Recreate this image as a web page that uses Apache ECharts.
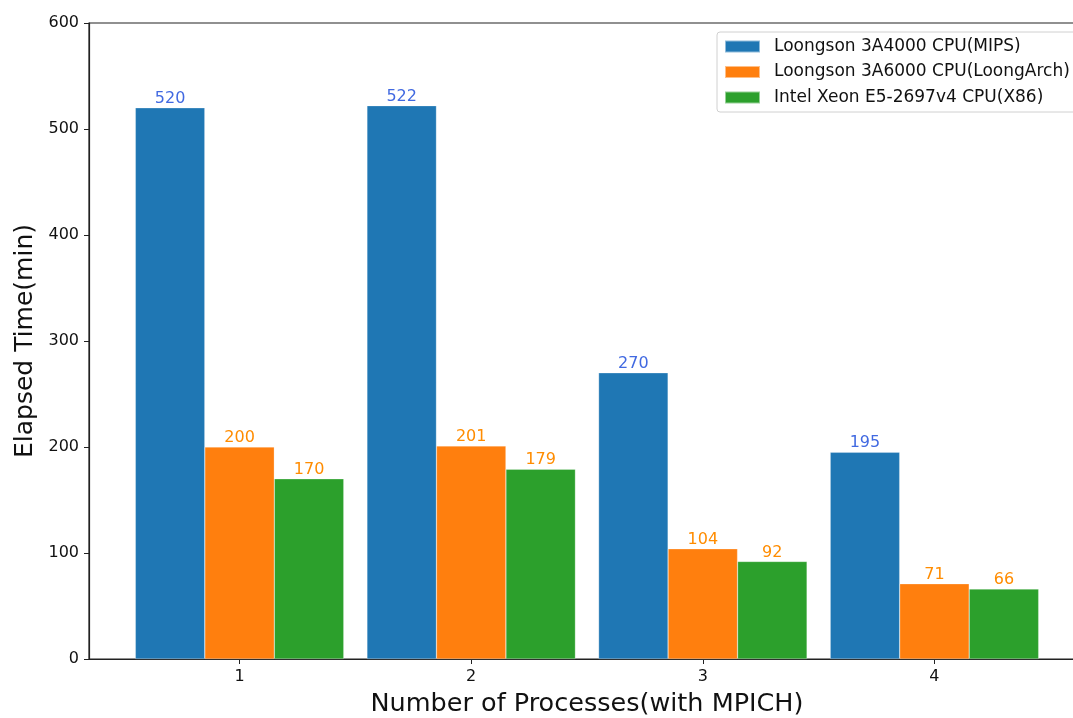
<!DOCTYPE html>
<html>
<head>
<meta charset="utf-8">
<script src="https://cdn.jsdelivr.net/npm/echarts@6/dist/echarts.min.js"></script>
<style>
html,body{margin:0;padding:0;background:#fff;}
#chart{width:1073px;height:718px;}
</style>
</head>
<body>
<div id="chart"></div>
<script>
const categories = ['1', '2', '3', '4'];
const seriesNames = ['Loongson 3A4000 CPU(MIPS)', 'Loongson 3A6000 CPU(LoongArch)', 'Intel Xeon E5-2697v4 CPU(X86)'];
const mips = [520, 522, 270, 195];
const loongArch = [200, 201, 104, 71];
const x86 = [170, 179, 92, 66];
const yTicks = [0, 100, 200, 300, 400, 500, 600];

const barColors = ['#1f77b4', '#ff7f0e', '#2ca02c'];
const labelColors = ['#4169e1', '#ff8c00', '#ff8c00'];
const FONT = 'DejaVu Sans';

function toPoints(arr) { return arr.map((v, i) => [i + 1, v]); }

const chart = echarts.init(document.getElementById('chart'), null, {renderer: 'canvas'});
const seriesData = [mips, loongArch, x86];
chart.setOption({
  animation: false,
  textStyle: {fontFamily: FONT},
  grid: {left: 89, right: -12, top: 23, bottom: 59, outerBoundsMode: 'none', containLabel: false,
    show: true, borderColor: '#222', borderWidth: 1.2, backgroundColor: 'transparent'},
  legend: {
    orient: 'vertical', left: 717, top: 32,
    icon: 'rect', itemWidth: 35, itemHeight: 12, itemGap: 8.5,
    padding: [6, 10, 6, 7],
    borderColor: '#d0d0d0', borderWidth: 1, borderRadius: 3,
    backgroundColor: '#fff',
    textStyle: {fontFamily: FONT, fontSize: 17, color: '#111', padding: [0, 0, 0, 9]},
    data: seriesNames
  },
  xAxis: {
    type: 'value', min: 0.35, max: 4.65,
    name: 'Number of Processes(with MPICH)', nameLocation: 'middle', nameGap: 32,
    nameTextStyle: {fontFamily: FONT, fontSize: 25.5, color: '#111', verticalAlign: 'top'},
    splitLine: {show: false},
    axisLine: {show: true, lineStyle: {color: '#222', width: 1.2}},
    axisTick: {show: true, length: 5, lineStyle: {color: '#222'}},
    axisLabel: {
      showMinLabel: false, showMaxLabel: false, fontSize: 16, color: '#111', margin: 10,
      formatter: v => (Number.isInteger(v) && categories[v - 1] !== undefined) ? categories[v - 1] : ''
    }
  },
  yAxis: {
    type: 'value', min: yTicks[0], max: yTicks[yTicks.length - 1], interval: 100,
    name: 'Elapsed Time(min)', nameLocation: 'middle', nameGap: 50,
    nameTextStyle: {fontFamily: FONT, fontSize: 25, color: '#111'},
    splitLine: {show: false},
    axisLine: {show: true, lineStyle: {color: '#222', width: 1.2}},
    axisTick: {show: true, length: 5, lineStyle: {color: '#222'}},
    axisLabel: {fontSize: 16, color: '#111', margin: 10}
  },
  series: seriesData.map((arr, k) => ({
    name: seriesNames[k], type: 'bar',
    data: toPoints(arr),
    barWidth: '30%', barGap: '0%',
    itemStyle: {color: barColors[k], borderColor: 'rgba(255,255,255,0.5)', borderWidth: 0.5},
    label: {show: true, position: 'top', distance: 1, color: labelColors[k], fontFamily: FONT, fontSize: 16,
      formatter: p => String(p.value[1])}
  }))
});
</script>
</body>
</html>
